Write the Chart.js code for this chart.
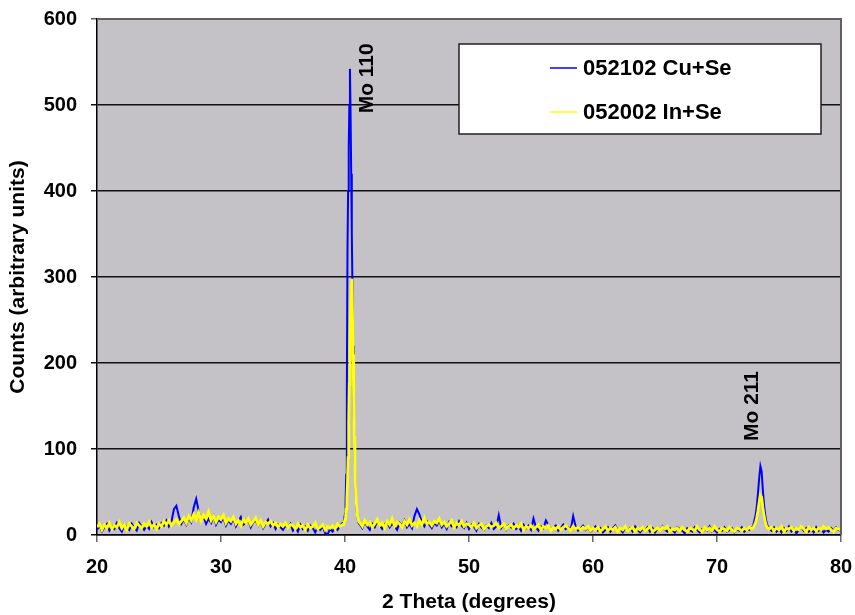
<!DOCTYPE html>
<html>
<head>
<meta charset="utf-8">
<title>XRD scan</title>
<script src="https://cdn.jsdelivr.net/npm/chart.js@4.4.1/dist/chart.umd.min.js"></script>
<style>
  body { margin: 0; background: #fff; }
  #xrdChart { display: block; }
</style>
</head>
<body>
<canvas id="xrdChart" width="855" height="615"></canvas>
<script>
// 2 theta positions (degrees) shared by both scans
var twoTheta = [
  20.0, 20.2, 20.4, 20.6, 20.8, 21.0, 21.2, 21.4, 21.6, 21.8,
  22.0, 22.2, 22.4, 22.6, 22.8, 23.0, 23.2, 23.4, 23.6, 23.8,
  24.0, 24.2, 24.4, 24.6, 24.8, 25.0, 25.2, 25.4, 25.6, 25.8,
  26.0, 26.2, 26.4, 26.6, 26.8, 27.0, 27.2, 27.4, 27.6, 27.8,
  28.0, 28.2, 28.4, 28.6, 28.8, 29.0, 29.2, 29.4, 29.6, 29.8,
  30.0, 30.2, 30.4, 30.6, 30.8, 31.0, 31.2, 31.4, 31.6, 31.8,
  32.0, 32.2, 32.4, 32.6, 32.8, 33.0, 33.2, 33.4, 33.6, 33.8,
  34.0, 34.2, 34.4, 34.6, 34.8, 35.0, 35.2, 35.4, 35.6, 35.8,
  36.0, 36.2, 36.4, 36.6, 36.8, 37.0, 37.2, 37.4, 37.6, 37.8,
  38.0, 38.2, 38.4, 38.6, 38.8, 39.0, 39.2, 39.4, 39.6, 39.8,
  // Mo 110
  39.9, 40.0, 40.05, 40.1, 40.15, 40.2, 40.25, 40.3, 40.35, 40.4, 40.45,
  40.5, 40.55, 40.6, 40.65, 40.7, 40.75, 40.8, 40.85, 40.9, 41.0, 41.1,
  41.2, 41.4, 41.6, 41.8,
  42.0, 42.2, 42.4, 42.6, 42.8, 43.0, 43.2, 43.4, 43.6, 43.8,
  44.0, 44.2, 44.4, 44.6, 44.8, 45.0, 45.2, 45.4, 45.6, 45.8,
  46.0, 46.2, 46.4, 46.6, 46.8, 47.0, 47.2, 47.4, 47.6, 47.8,
  48.0, 48.2, 48.4, 48.6, 48.8, 49.0, 49.2, 49.4, 49.6, 49.8,
  50.0, 50.2, 50.4, 50.6, 50.8, 51.0, 51.2, 51.4, 51.6, 51.8,
  52.0, 52.2, 52.4, 52.6, 52.8, 53.0, 53.2, 53.4, 53.6, 53.8,
  54.0, 54.2, 54.4, 54.6, 54.8, 55.0, 55.2, 55.4, 55.6, 55.8,
  56.0, 56.2, 56.4, 56.6, 56.8, 57.0, 57.2, 57.4, 57.6, 57.8,
  58.0, 58.2, 58.4, 58.6, 58.8, 59.0, 59.2, 59.4, 59.6, 59.8,
  60.0, 60.2, 60.4, 60.6, 60.8, 61.0, 61.2, 61.4, 61.6, 61.8,
  62.0, 62.2, 62.4, 62.6, 62.8, 63.0, 63.2, 63.4, 63.6, 63.8,
  64.0, 64.2, 64.4, 64.6, 64.8, 65.0, 65.2, 65.4, 65.6, 65.8,
  66.0, 66.2, 66.4, 66.6, 66.8, 67.0, 67.2, 67.4, 67.6, 67.8,
  68.0, 68.2, 68.4, 68.6, 68.8, 69.0, 69.2, 69.4, 69.6, 69.8,
  70.0, 70.2, 70.4, 70.6, 70.8, 71.0, 71.2, 71.4, 71.6, 71.8,
  72.0, 72.2, 72.4, 72.6, 72.8,
  // Mo 211
  72.9, 73.0, 73.1, 73.2, 73.3, 73.4, 73.5, 73.6, 73.7, 73.8, 73.9, 74.0, 74.1,
  74.2, 74.4, 74.6, 74.8,
  75.0, 75.2, 75.4, 75.6, 75.8, 76.0, 76.2, 76.4, 76.6, 76.8,
  77.0, 77.2, 77.4, 77.6, 77.8, 78.0, 78.2, 78.4, 78.6, 78.8,
  79.0, 79.2, 79.4, 79.6, 79.8, 80.0
];

// 052102 Cu+Se counts
var cuSe = [
  6, 11, 4, 9, 13, 5, 10, 7, 14, 8,
  4, 12, 9, 6, 13, 8, 5, 14, 10, 6,
  11, 7, 15, 9, 12, 8, 14, 11, 17, 10,
  15, 30, 34, 22, 13, 18, 12, 20, 15, 32,
  42, 28, 16, 21, 13, 19, 14, 22, 12, 18,
  15, 20, 11, 17, 13, 19, 10, 16, 21, 12,
  14, 18, 9, 15, 17, 11, 16, 8, 13, 18,
  10, 14, 7, 12, 9, 6, 11, 8, 13, 5,
  9, 4, 12, 7, 10, 5, 11, 8, 3, 9,
  6, 10, 2, 1, 7, 4, 9, 6, 11, 14,
  14, 25, 40, 70, 170, 330, 400, 450, 500, 542, 490,
  420, 350, 290, 220, 150, 110, 80, 55, 35, 20, 14,
  12, 8, 15, 10,
  6, 13, 9, 16, 11, 7, 12, 15, 9, 13,
  10, 6, 14, 11, 17, 9, 13, 8, 22, 30,
  24, 15, 10, 16, 12, 8, 14, 11, 17, 9,
  13, 7, 15, 10, 12, 9, 16, 11, 8, 14,
  7, 12, 10, 5, 13, 9, 6, 11, 8, 14,
  7, 10, 23, 8, 12, 6, 11, 9, 13, 7,
  10, 5, 12, 8, 11, 6, 19, 9, 5, 10,
  8, 17, 12, 6, 9, 11, 5, 8, 12, 7,
  9, 6, 22, 10, 5, 8, 11, 6, 9, 4,
  7, 10, 5, 8, 3, 6, 9, 4, 8, 11,
  5, 7, 3, 9, 6, 8, 4, 10, 6, 3,
  7, 5, 9, 4, 8, 3, 7, 5, 10, 6,
  4, 8, 6, 3, 9, 7, 5, 2, 8, 6,
  4, 9, 6, 3, 7, 8, 5, 10, 4, 6,
  3, 7, 5, 9, 4, 6, 8, 3, 7, 5,
  9, 4, 7, 6, 8,
  10, 16, 22, 32, 48, 66, 80, 74, 52, 34, 22, 14, 10,
  8, 5, 9, 4,
  7, 3, 8, 5, 10, 4, 7, 2, 6, 9,
  5, 8, 4, 7, 3, 9, 5, 7, 3, 6,
  4, 8, 5, 9, 6, 5
];

// 052002 In+Se counts
var inSe = [
  9, 13, 6, 12, 8, 14, 7, 11, 9, 15,
  8, 12, 6, 13, 10, 7, 14, 11, 8, 13,
  10, 15, 9, 12, 7, 13, 10, 16, 12, 17,
  11, 15, 18, 13, 16, 20, 14, 22, 17, 24,
  18, 26, 16, 23, 19, 27, 17, 22, 15, 21,
  18, 23, 14, 19, 16, 21, 13, 17, 11, 18,
  14, 19, 12, 16, 20, 12, 17, 10, 15, 13,
  16, 11, 14, 9, 13, 10, 14, 8, 12, 11,
  7, 13, 9, 11, 6, 12, 8, 10, 14, 7,
  9, 12, 6, 10, 8, 11, 7, 13, 10, 12,
  12, 18, 22, 30, 42, 60, 90, 130, 175, 220, 260,
  290, 298, 260, 210, 160, 115, 80, 55, 40, 22, 16,
  14, 10, 17, 12,
  15, 9, 13, 18, 11, 14, 8, 16, 12, 19,
  10, 15, 13, 9, 16, 12, 18, 11, 14, 10,
  17, 12, 20, 13, 15, 11, 16, 14, 19, 12,
  15, 10, 13, 17, 9, 14, 11, 16, 10, 13,
  12, 9, 14, 8, 11, 13, 7, 10, 12, 9,
  11, 14, 8, 10, 13, 7, 10, 12, 8, 11,
  9, 13, 6, 10, 8, 11, 7, 9, 12, 6,
  10, 8, 11, 5, 9, 7, 10, 6, 9, 11,
  8, 5, 10, 7, 9, 6, 9, 7, 10, 5,
  8, 6, 9, 4, 7, 10, 5, 8, 6, 9,
  4, 8, 6, 10, 5, 7, 9, 4, 8, 6,
  9, 5, 7, 10, 4, 6, 8, 5, 9, 7,
  10, 4, 7, 6, 8, 5, 9, 6, 4, 8,
  7, 5, 10, 6, 4, 9, 6, 8, 5, 10,
  6, 4, 8, 7, 5, 9, 6, 4, 8, 7,
  5, 8, 6, 9, 7,
  8, 11, 14, 20, 28, 38, 46, 44, 32, 22, 15, 10, 8,
  7, 9, 5, 8,
  6, 10, 4, 8, 7, 9, 5, 8, 6, 10,
  7, 4, 9, 6, 8, 5, 8, 6, 10, 7,
  9, 6, 4, 8, 7, 6
];

var seriesNames = ['052102 Cu+Se', '052002 In+Se'];
var peakLabels = ['Mo 110', 'Mo 211'];
var peakLabelX = [41.83, 72.8];
var peakLabelY = [531, 150];

var fontFamily = '"Liberation Sans", Arial, sans-serif';

function toPoints(ys) {
  return twoTheta.map(function (t, i) { return { x: t, y: ys[i] }; });
}

// grey plot area + grey top/right frame
var plotBackground = {
  id: 'plotBackground',
  beforeDraw: function (chart) {
    var a = chart.chartArea, ctx = chart.ctx;
    ctx.save();
    ctx.fillStyle = '#c4c2c6';
    ctx.fillRect(a.left, a.top, a.right - a.left, a.bottom - a.top);
    ctx.restore();
  },
  afterDraw: function (chart) {
    var a = chart.chartArea, ctx = chart.ctx;
    ctx.save();
    ctx.strokeStyle = '#606060';
    ctx.lineWidth = 2;
    ctx.beginPath();
    ctx.moveTo(a.left, a.top);
    ctx.lineTo(a.right, a.top);
    ctx.lineTo(a.right, a.bottom);
    ctx.stroke();
    ctx.restore();
  }
};

// rotated peak names
var peakNames = {
  id: 'peakNames',
  afterDatasetsDraw: function (chart) {
    var ctx = chart.ctx, xs = chart.scales.x, ys = chart.scales.y;
    ctx.save();
    ctx.font = 'bold 21px ' + fontFamily;
    ctx.fillStyle = '#000';
    ctx.textAlign = 'center';
    ctx.textBaseline = 'middle';
    peakLabels.forEach(function (txt, i) {
      ctx.save();
      ctx.translate(xs.getPixelForValue(peakLabelX[i]), ys.getPixelForValue(peakLabelY[i]));
      ctx.rotate(-Math.PI / 2);
      ctx.fillText(txt, 0, 0);
      ctx.restore();
    });
    ctx.restore();
  }
};

// boxed legend like the Excel one
var boxLegend = {
  id: 'boxLegend',
  afterDraw: function (chart) {
    var ctx = chart.ctx;
    var box = { left: 459, top: 44, right: 821, bottom: 134 };
    var rows = [68, 112];
    ctx.save();
    ctx.fillStyle = '#fff';
    ctx.fillRect(box.left, box.top, box.right - box.left, box.bottom - box.top);
    ctx.strokeStyle = '#222';
    ctx.lineWidth = 1.5;
    ctx.strokeRect(box.left, box.top, box.right - box.left, box.bottom - box.top);
    ctx.font = 'bold 22px ' + fontFamily;
    ctx.textBaseline = 'middle';
    ctx.textAlign = 'left';
    // Cu+Se first, In+Se second
    [1, 0].forEach(function (dsIndex, row) {
      var ds = chart.data.datasets[dsIndex];
      ctx.strokeStyle = ds.borderColor;
      ctx.lineWidth = 1.5;
      ctx.beginPath();
      ctx.moveTo(550, rows[row]);
      ctx.lineTo(577, rows[row]);
      ctx.stroke();
      ctx.fillStyle = '#000';
      ctx.fillText(ds.label, 583, rows[row] + 1);
    });
    ctx.restore();
  }
};

var ctx = document.getElementById('xrdChart').getContext('2d');
new Chart(ctx, {
  type: 'line',
  data: {
    datasets: [
      {
        label: seriesNames[1],
        data: toPoints(inSe),
        borderColor: '#ffff00',
        borderWidth: 2.8,
        pointRadius: 0,
        tension: 0,
        order: 1
      },
      {
        label: seriesNames[0],
        data: toPoints(cuSe),
        borderColor: '#0000ff',
        borderWidth: 2,
        pointRadius: 0,
        tension: 0,
        order: 2
      }
    ]
  },
  options: {
    responsive: false,
    animation: false,
    layout: { padding: { left: 0, top: 19, right: 14, bottom: 0 } },
    plugins: {
      legend: { display: false },
      tooltip: { enabled: false }
    },
    scales: {
      x: {
        type: 'linear',
        min: 20,
        max: 80,
        ticks: {
          stepSize: 10,
          color: '#000',
          padding: 13,
          font: { family: fontFamily, size: 20, weight: 'bold' }
        },
        grid: { drawOnChartArea: false, drawTicks: true, tickLength: 7, color: '#666', lineWidth: 1.5 },
        border: { color: '#000', width: 1.5 },
        title: {
          display: true,
          text: '2 Theta (degrees)',
          color: '#000',
          padding: { top: 0, bottom: 0 },
          font: { family: fontFamily, size: 21, weight: 'bold' }
        },
        afterFit: function (scale) {
          scale.height = 80;
          scale.paddingLeft = 0;
          scale.paddingRight = 0;
        }
      },
      y: {
        min: 0,
        max: 600,
        ticks: {
          stepSize: 100,
          color: '#000',
          padding: 14,
          font: { family: fontFamily, size: 20, weight: 'bold' }
        },
        grid: {
          color: function (c) { return c.tick && c.tick.value === 600 ? '#606060' : '#111'; },
          lineWidth: 1.5,
          tickLength: 6
        },
        border: { color: '#000', width: 1.5 },
        title: {
          display: true,
          text: 'Counts (arbitrary units)',
          color: '#000',
          padding: { top: 6, bottom: 0 },
          font: { family: fontFamily, size: 21, weight: 'bold' }
        },
        afterFit: function (scale) {
          scale.width = 97;
          scale.paddingTop = 0;
          scale.paddingBottom = 0;
        }
      }
    }
  },
  plugins: [plotBackground, peakNames, boxLegend]
});
</script>
</body>
</html>
